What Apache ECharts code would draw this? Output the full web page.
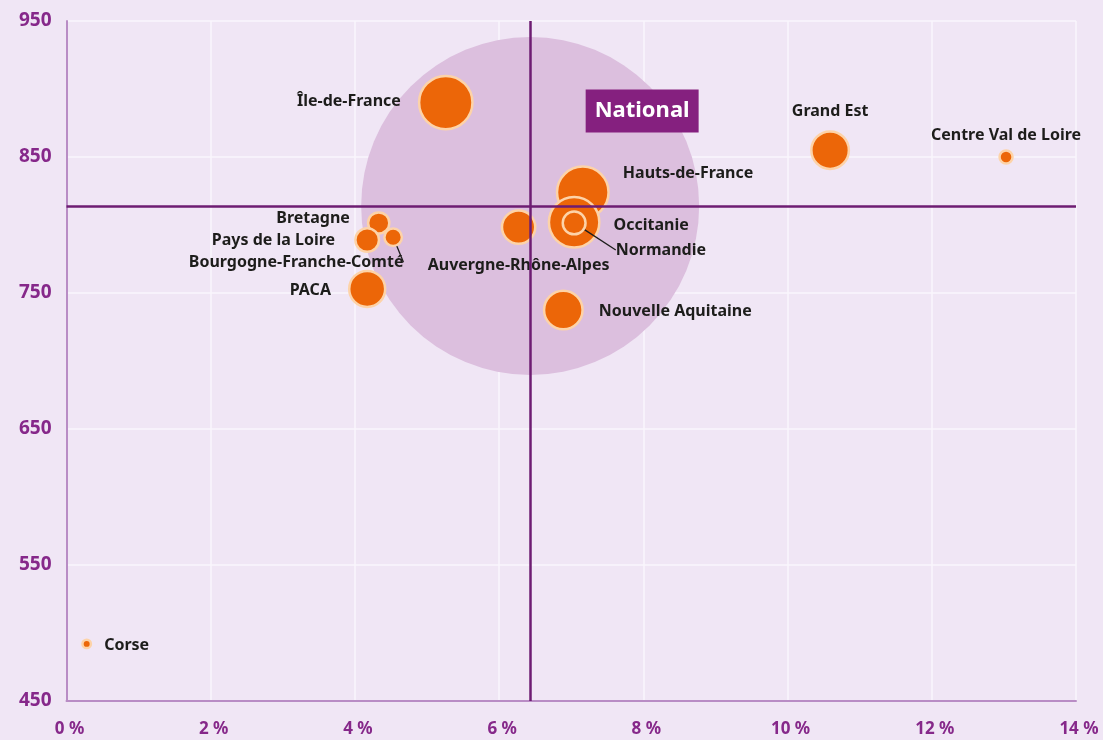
<!DOCTYPE html>
<html><head><meta charset="utf-8">
<script src="https://cdn.jsdelivr.net/npm/echarts@6/dist/echarts.min.js"></script>
<style>html,body{margin:0;padding:0;background:#f0e6f5}#c{width:1103px;height:740px}</style>
</head><body><div id="c"></div>
<script>
// ---- data ----
const regions = ['Hauts-de-France','Occitanie','Normandie','Île-de-France','Auvergne-Rhône-Alpes','Nouvelle Aquitaine','Bretagne','Pays de la Loire','Bourgogne-Franche-Comté','PACA','Grand Est','Centre Val de Loire','Corse'];
const rates   = [7.16, 7.04, 7.04, 5.26, 6.27, 6.89, 4.33, 4.17, 4.53, 4.17, 10.59, 13.03, 0.28];
const values  = [824, 802, 801.5, 890, 798.5, 737.5, 801.5, 789, 791, 753, 855, 850, 492];
const volumes = [73, 70, 16, 78, 32, 42, 14, 17, 10, 37, 40, 6, 3];
const nationalRate = 6.43;
const nationalValue = 814;
const xMin = 0, xMax = 14, xStep = 2;
const yMin = 450, yMax = 950, yStep = 100;

// ---- label placement (style) ----
const labelPos = {
  'Hauts-de-France': {position:'right', distance:13, offset:[0,-19]},
  'Occitanie': {position:'right', distance:13, offset:[0,3]},
  'Normandie': {position:'right', distance:5},
  'Île-de-France': {position:'left', distance:17, offset:[0,-1]},
  'Auvergne-Rhône-Alpes': {position:'bottom', distance:13},
  'Nouvelle Aquitaine': {position:'right', distance:15, offset:[0,1]},
  'Bretagne': {position:'left', distance:17, offset:[0,-5]},
  'Pays de la Loire': {position:'left', distance:19},
  'Bourgogne-Franche-Comté': {position:'bottom', distance:4},
  'PACA': {position:'left', distance:17, offset:[0,2]},
  'Grand Est': {position:'top', distance:11},
  'Centre Val de Loire': {position:'top', distance:6},
  'Corse': {position:'right', distance:12, offset:[0,2]}
};
const leaderShift = { 'Normandie': [24, 27], 'Bourgogne-Franche-Comté': [-97, 3] };

const sizeOf = v => 2 * Math.sqrt(v * 10) - 2.5;
function item(i) {
  const n = regions[i];
  return { name: n, value: [rates[i], values[i], volumes[i]], label: Object.assign({}, labelPos[n]) };
}
const mainData = [], leaderData = [];
regions.forEach((n, i) => (leaderShift[n] ? leaderData : mainData).push(item(i)));

const labelStyle = { show: true, formatter: '{b}', color: '#1d1d1b', fontFamily: 'Noto Sans', fontWeight: 'bold', fontSize: 16 };
const bubbleStyle = { color: '#ec6608', borderColor: '#fdd3a8', borderWidth: 2.5, opacity: 1 };

const chart = echarts.init(document.getElementById('c'), null, { renderer: 'canvas' });
chart.setOption({
  backgroundColor: '#f0e6f5',
  animation: false,
  grid: { left: 66.5, right: 27, top: 21, bottom: 39, containLabel: false },
  xAxis: {
    type: 'value', min: xMin, max: xMax, interval: xStep,
    axisLine: { show: true, onZero: false, lineStyle: { color: '#b98cc5', width: 2 } },
    axisTick: { show: false },
    splitLine: { show: true, lineStyle: { color: '#faf6fc', width: 1.5 } },
    axisLabel: { formatter: v => v + ' %', color: '#86288a', fontFamily: 'Noto Sans', fontWeight: 'bold', fontSize: 17, margin: 20, padding: [0, 0, 0, 6] }
  },
  yAxis: {
    type: 'value', min: yMin, max: yMax, interval: yStep,
    axisLine: { show: true, onZero: false, lineStyle: { color: '#b98cc5', width: 2 } },
    axisTick: { show: false },
    splitLine: { show: true, lineStyle: { color: '#faf6fc', width: 1.5 } },
    axisLabel: { color: '#86288a', fontFamily: 'Noto Sans', fontWeight: 'bold', fontSize: 19, margin: 15 }
  },
  series: [
    {
      name: 'National', type: 'scatter', z: 1, silent: true,
      symbolSize: 338,
      itemStyle: { color: '#dcbfde', opacity: 1 },
      data: [{ name: 'National', value: [nationalRate, nationalValue] }],
      label: {
        show: true, formatter: 'National', position: [281, 74], align: 'center', verticalAlign: 'middle',
        color: '#ffffff', backgroundColor: '#85207f', fontFamily: 'Noto Sans', fontWeight: 'bold', fontSize: 22,
        padding: [7, 9, 7, 9], lineHeight: 29
      },
      markLine: {
        silent: true, symbol: 'none', animation: false,
        lineStyle: { color: '#6e1c72', width: 2.5, type: 'solid' },
        label: { show: false },
        data: [{ xAxis: nationalRate }, { yAxis: nationalValue }]
      }
    },
    {
      name: 'Régions', type: 'scatter', z: 3,
      symbolSize: d => sizeOf(d[2]),
      itemStyle: bubbleStyle,
      label: labelStyle,
      labelLine: { show: false },
      data: mainData
    },
    {
      name: 'Régions (repères)', type: 'scatter', z: 4,
      symbolSize: d => sizeOf(d[2]),
      itemStyle: bubbleStyle,
      label: labelStyle,
      labelLine: { show: true, lineStyle: { color: '#1d1d1b', width: 1.3 } },
      labelLayout: p => { const s = leaderShift[leaderData[p.dataIndex].name]; return { dx: s[0], dy: s[1] }; },
      data: leaderData
    }
  ]
});
</script></body></html>
